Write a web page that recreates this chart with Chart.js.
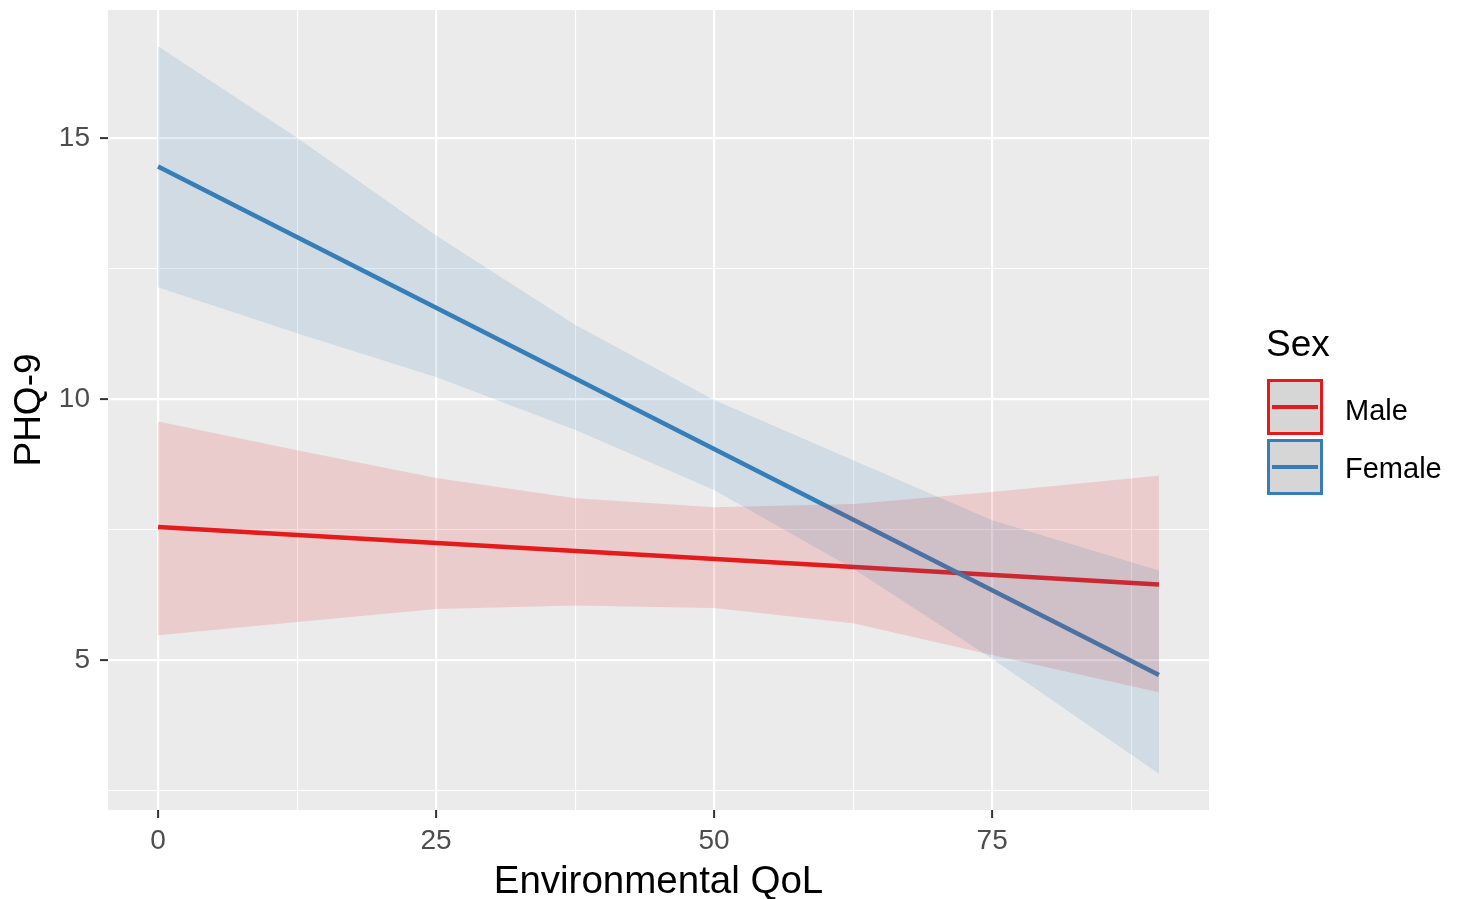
<!DOCTYPE html>
<html>
<head>
<meta charset="utf-8">
<script src="https://cdn.jsdelivr.net/npm/chart.js@4/dist/chart.umd.min.js"></script>
<style>
    body { margin: 0; background: #ffffff; }
    #wrap { position: relative; width: 1460px; height: 899px; font-family: 'Liberation Sans', Arial, sans-serif; }
    #legend-title { position: absolute; left: 1266px; top: 325px; font-size: 37px; line-height: 37px; color: #000; }
    .key { position: absolute; left: 1267px; width: 50px; height: 50px; background: #d6d6d6; border: 3px solid; }
    .key span { position: absolute; left: 2px; right: 2px; top: 23px; height: 4px; }
    .key-label { position: absolute; left: 1345px; font-size: 29px; line-height: 29px; color: #000; }
</style>
</head>
<body>
<div id="wrap">
    <canvas id="effectChart" width="1460" height="899"></canvas>
    <div id="legend-title">Sex</div>
    <div class="key" style="top: 379px; border-color: #e41a1c;"><span style="background: #e41a1c;"></span></div>
    <div class="key-label" style="top: 396px;">Male</div>
    <div class="key" style="top: 439px; border-color: #377eb8;"><span style="background: #377eb8;"></span></div>
    <div class="key-label" style="top: 454px;">Female</div>
</div>
<script>
// confidence band, read at a few points along Environmental QoL
const bandX = [0, 12.5, 25, 37.5, 50, 62.5, 75, 90];
const femaleUpper = [16.75, 15.0, 13.13, 11.42, 9.98, 8.83, 7.68, 6.72];
const femaleLower = [12.14, 11.26, 10.42, 9.41, 8.26, 6.75, 5.03, 2.83];
const maleUpper = [9.57, 9.02, 8.49, 8.10, 7.93, 7.99, 8.22, 8.53];
const maleLower = [5.48, 5.73, 5.98, 6.05, 6.00, 5.71, 5.10, 4.39];

// fitted lines
const fitX = [0, 90];
const femaleFit = [14.45, 4.72];
const maleFit = [7.55, 6.45];

// axis ticks
const xMajor = [0, 25, 50, 75];
const xMinor = [12.5, 37.5, 62.5, 87.5];
const yMajor = [5, 10, 15];
const yMinor = [2.5, 7.5, 12.5, 17.5];

const FONT = "'Liberation Sans', Arial, sans-serif";

function toPoints(xs, ys) {
    return xs.map((x, i) => ({ x: x, y: ys[i] }));
}

// ggplot style 5% expansion
const allY = femaleUpper.concat(femaleLower, maleUpper, maleLower, femaleFit, maleFit);
const yLo = Math.min(...allY), yHi = Math.max(...allY);
const yMin = yLo - (yHi - yLo) * 0.05;
const yMax = yHi + (yHi - yLo) * 0.05;
const xMin = 0 - 90 * 0.05;
const xMax = 90 + 90 * 0.05;

const panelBg = {
    id: 'panelBg',
    beforeDraw(chart) {
        const a = chart.chartArea;
        const ctx = chart.ctx;
        ctx.save();
        ctx.fillStyle = '#ebebeb';
        ctx.fillRect(a.left, a.top, a.right - a.left, a.bottom - a.top);
        ctx.restore();
    }
};

function gridFor(major) {
    return {
        drawOnChartArea: true,
        drawTicks: true,
        tickLength: 8,
        color: '#ffffff',
        lineWidth: c => (c.tick && major.includes(c.tick.value)) ? 2.2 : 1.1,
        tickColor: c => (c.tick && major.includes(c.tick.value)) ? '#333333' : 'rgba(0,0,0,0)',
        tickWidth: 2
    };
}

function setTicks(major, minor, lo, hi) {
    return function(scale) {
        scale.ticks = major.concat(minor)
            .filter(v => v >= lo && v <= hi)
            .sort((a, b) => a - b)
            .map(v => ({ value: v }));
    };
}

const ctx = document.getElementById('effectChart');

new Chart(ctx, {
    type: 'line',
    data: {
        datasets: [
            {
                label: 'Female band',
                data: toPoints(bandX, femaleUpper),
                borderWidth: 0,
                pointRadius: 0,
                backgroundColor: 'rgba(55, 126, 184, 0.15)',
                fill: 1
            },
            {
                label: 'Female band low',
                data: toPoints(bandX, femaleLower),
                borderWidth: 0,
                pointRadius: 0,
                fill: false
            },
            {
                label: 'Male band',
                data: toPoints(bandX, maleUpper),
                borderWidth: 0,
                pointRadius: 0,
                backgroundColor: 'rgba(228, 26, 28, 0.15)',
                fill: 3
            },
            {
                label: 'Male band low',
                data: toPoints(bandX, maleLower),
                borderWidth: 0,
                pointRadius: 0,
                fill: false
            },
            {
                label: 'Female',
                data: toPoints(fitX, femaleFit),
                borderColor: '#377eb8',
                borderWidth: 4.5,
                pointRadius: 0,
                fill: false
            },
            {
                label: 'Male',
                data: toPoints(fitX, maleFit),
                borderColor: '#e41a1c',
                borderWidth: 4.5,
                pointRadius: 0,
                fill: false
            }
        ]
    },
    options: {
        responsive: false,
        animation: false,
        layout: {
            padding: { left: 8, right: 251, top: 10, bottom: 0 }
        },
        plugins: {
            legend: { display: false },
            tooltip: { enabled: false }
        },
        scales: {
            x: {
                type: 'linear',
                min: xMin,
                max: xMax,
                afterBuildTicks: setTicks(xMajor, xMinor, xMin, xMax),
                afterFit: s => { s.height = 89; s.paddingLeft = 0; s.paddingRight = 0; },
                border: { display: false },
                grid: gridFor(xMajor),
                ticks: {
                    autoSkip: false,
                    maxRotation: 0,
                    padding: 6,
                    color: '#4d4d4d',
                    font: { family: FONT, size: 28 },
                    callback: v => xMajor.includes(v) ? String(v) : ''
                },
                title: {
                    display: true,
                    text: 'Environmental QoL',
                    color: '#000000',
                    padding: 0,
                    font: { family: FONT, size: 38.5, lineHeight: 0.85 }
                }
            },
            y: {
                type: 'linear',
                min: yMin,
                max: yMax,
                afterBuildTicks: setTicks(yMajor, yMinor, yMin, yMax),
                afterFit: s => { s.width = 100; s.paddingTop = 0; s.paddingBottom = 0; },
                border: { display: false },
                grid: gridFor(yMajor),
                ticks: {
                    autoSkip: false,
                    padding: 10,
                    color: '#4d4d4d',
                    font: { family: FONT, size: 28 },
                    callback: v => yMajor.includes(v) ? String(v) : ''
                },
                title: {
                    display: true,
                    text: 'PHQ-9',
                    color: '#000000',
                    padding: 0,
                    font: { family: FONT, size: 37, lineHeight: 1.2 }
                }
            }
        }
    },
    plugins: [panelBg]
});
</script>
</body>
</html>
